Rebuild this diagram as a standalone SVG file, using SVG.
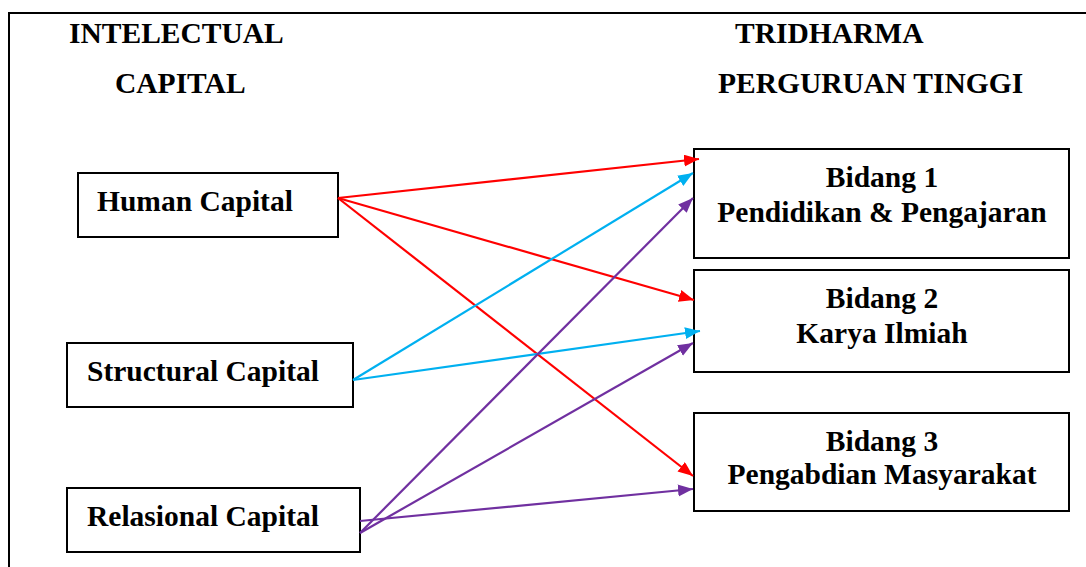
<svg xmlns="http://www.w3.org/2000/svg" width="1086" height="567" viewBox="0 0 1086 567">
<style>
.box{fill:#fff;stroke:#000;stroke-width:2}
.t{font-family:"Liberation Serif","Times New Roman",serif;font-weight:bold;font-size:29.5px;fill:#000}
.c{text-anchor:middle}
.red{stroke:#FF0000;stroke-width:2.2;fill:none}
.cyan{stroke:#00B0F0;stroke-width:2.2;fill:none}
.pur{stroke:#7030A0;stroke-width:2.2;fill:none}
</style>
<defs>
<marker id="ar" markerUnits="userSpaceOnUse" markerWidth="16" markerHeight="14" refX="15" refY="6" orient="auto"><path d="M0,0 L15,6 L0,12 z" fill="#FF0000"/></marker>
<marker id="ac" markerUnits="userSpaceOnUse" markerWidth="16" markerHeight="14" refX="15" refY="6" orient="auto"><path d="M0,0 L15,6 L0,12 z" fill="#00B0F0"/></marker>
<marker id="ap" markerUnits="userSpaceOnUse" markerWidth="16" markerHeight="14" refX="15" refY="6" orient="auto"><path d="M0,0 L15,6 L0,12 z" fill="#7030A0"/></marker>
</defs>
<rect width="1086" height="567" fill="#fff"/>
<path d="M9,567 V13 H1086" fill="none" stroke="#000" stroke-width="2"/>
<g id="headers">
<text class="t" x="69" y="43">INTELECTUAL</text>
<text class="t" x="115" y="93">CAPITAL</text>
<text class="t" x="735" y="43">TRIDHARMA</text>
<text class="t" x="718" y="93">PERGURUAN TINGGI</text>
</g>
<g id="human">
<rect class="box" x="78" y="173" width="260" height="64"/>
<text class="t" x="97" y="211">Human Capital</text>
</g>
<g id="structural">
<rect class="box" x="67" y="343" width="286" height="64"/>
<text class="t" x="87" y="381">Structural Capital</text>
</g>
<g id="relasional">
<rect class="box" x="67" y="488" width="293" height="64"/>
<text class="t" x="87" y="526">Relasional Capital</text>
</g>
<g id="bidang1">
<rect class="box" x="694" y="149" width="375" height="109"/>
<text class="t c" x="882" y="187">Bidang 1</text>
<text class="t c" x="882" y="222">Pendidikan &amp; Pengajaran</text>
</g>
<g id="bidang2">
<rect class="box" x="694" y="270" width="375" height="102"/>
<text class="t c" x="882" y="308">Bidang 2</text>
<text class="t c" x="882" y="343">Karya Ilmiah</text>
</g>
<g id="bidang3">
<rect class="box" x="694" y="413" width="375" height="98"/>
<text class="t c" x="882" y="451">Bidang 3</text>
<text class="t c" x="882" y="484">Pengabdian Masyarakat</text>
</g>
<g id="connectors">
<line class="red" x1="338" y1="198" x2="699" y2="159" marker-end="url(#ar)"/>
<line class="red" x1="338" y1="198" x2="694" y2="300" marker-end="url(#ar)"/>
<line class="red" x1="338" y1="198" x2="693" y2="476" marker-end="url(#ar)"/>
<line class="cyan" x1="353" y1="380" x2="693" y2="173" marker-end="url(#ac)"/>
<line class="cyan" x1="353" y1="380" x2="700" y2="331" marker-end="url(#ac)"/>
<line class="pur" x1="360" y1="533" x2="693" y2="198" marker-end="url(#ap)"/>
<line class="pur" x1="360" y1="533" x2="693" y2="343" marker-end="url(#ap)"/>
<line class="pur" x1="360" y1="521" x2="693" y2="489" marker-end="url(#ap)"/>
</g>
</svg>
